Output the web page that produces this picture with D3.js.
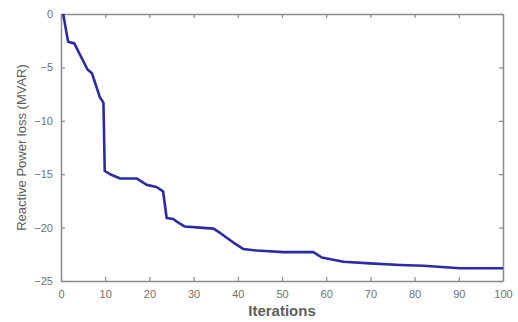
<!DOCTYPE html>
<html>
<head>
<meta charset="utf-8">
<script src="https://cdn.jsdelivr.net/npm/d3@7"></script>
<style>
  html, body { margin: 0; padding: 0; background: #fff; }
  svg { display: block; }
  text { font-family: "Liberation Sans", Arial, sans-serif; }
</style>
</head>
<body>
<svg id="chart" width="518" height="322"></svg>
<script>
// Convergence of reactive power loss over the optimisation iterations
const iterations = [0.5, 1.6, 3, 6, 7, 8.8, 9.6, 9.9, 11.1, 13.4, 17.1, 19.4, 21.6, 23.1, 23.9, 25.4, 26.2, 28, 31.4, 34.5, 36, 39, 41.2, 44.3, 50.3, 57.1, 59, 63.9, 69.9, 76.7, 82, 90.3, 100];
const lossValues = [0, -2.6, -2.75, -5.2, -5.55, -7.8, -8.3, -14.7, -15.0, -15.4, -15.4, -16.0, -16.2, -16.6, -19.1, -19.2, -19.45, -19.9, -20.0, -20.1, -20.5, -21.4, -22.0, -22.15, -22.3, -22.3, -22.8, -23.2, -23.35, -23.5, -23.57, -23.8, -23.8];
const xTicks = [0, 10, 20, 30, 40, 50, 60, 70, 80, 90, 100];
const yTicks = [0, -5, -10, -15, -20, -25];

const svg = d3.select("#chart");
const plotLeft = 61, plotRight = 503, plotTop = 14, plotBottom = 281;

const x = d3.scaleLinear().domain([0, 100]).range([plotLeft, plotRight]);
const y = d3.scaleLinear().domain([-25, 0]).range([plotBottom, plotTop]);

const axisColor = "#8a8a8a";
const textColor = "#707070";

// bottom and left axes with inward ticks
const gx = svg.append("g").attr("transform", `translate(0,${plotBottom})`)
  .call(d3.axisBottom(x).tickValues(xTicks).tickSizeInner(-4).tickSizeOuter(0).tickPadding(9));
const gy = svg.append("g").attr("transform", `translate(${plotLeft},0)`)
  .call(d3.axisLeft(y).tickValues(yTicks).tickSizeInner(-4).tickSizeOuter(0).tickPadding(8));

// top and right axes (box) with ticks only
const gt = svg.append("g").attr("transform", `translate(0,${plotTop})`)
  .call(d3.axisTop(x).tickValues(xTicks).tickSizeInner(-4).tickSizeOuter(0).tickFormat(""));
const gr = svg.append("g").attr("transform", `translate(${plotRight},0)`)
  .call(d3.axisRight(y).tickValues(yTicks).tickSizeInner(-4).tickSizeOuter(0).tickFormat(""));

[gx, gy, gt, gr].forEach(g => {
  g.select(".domain").attr("stroke", axisColor).attr("stroke-width", 1.5);
  g.selectAll(".tick line").attr("stroke", axisColor).attr("stroke-width", 1.2);
  g.selectAll(".tick text").attr("fill", textColor).attr("font-size", 11);
});

// convergence curve
const line = d3.line().x((d, i) => x(iterations[i])).y(d => y(d));
svg.append("path")
  .datum(lossValues)
  .attr("d", line)
  .attr("fill", "none")
  .attr("stroke", "#2b2ba6")
  .attr("stroke-width", 2.6)
  .attr("stroke-linejoin", "round");

// axis titles
svg.append("text")
  .attr("x", (plotLeft + plotRight) / 2)
  .attr("y", 316)
  .attr("text-anchor", "middle")
  .attr("font-size", 15)
  .attr("font-weight", "bold")
  .attr("fill", "#5e5e5e")
  .text("Iterations");

svg.append("text")
  .attr("transform", `translate(26,${(plotTop + plotBottom) / 2}) rotate(-90)`)
  .attr("text-anchor", "middle")
  .attr("font-size", 13)
  .attr("fill", "#5e5e5e")
  .text("Reactive Power loss (MVAR)");
</script>
</body>
</html>
